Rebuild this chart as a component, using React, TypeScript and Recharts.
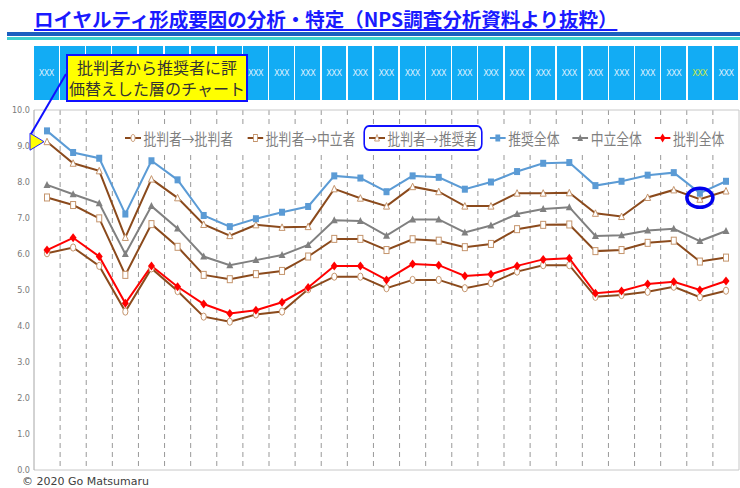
import React from 'react';
import { LineChart, Line, XAxis, YAxis, CartesianGrid, ReferenceDot } from 'recharts';

// ---- data ----
const titleText = 'ロイヤルティ形成要因の分析・特定（NPS調査分析資料より抜粋）';
const calloutLines = ['批判者から推奨者に評', '価替えした層のチャート'];
const footerText = '© 2020 Go Matsumaru';

const columnNos = [1, 2, 3, 4, 5, 6, 7, 8, 9, 10, 11, 12, 13, 14, 15, 16, 17, 18, 19, 20, 21, 22, 23, 24, 25, 26, 27];
const headerLabels = ['XXX', 'XXX', 'XXX', 'XXX', 'XXX', 'XXX', 'XXX', 'XXX', 'XXX', 'XXX', 'XXX', 'XXX', 'XXX', 'XXX', 'XXX', 'XXX', 'XXX', 'XXX', 'XXX', 'XXX', 'XXX', 'XXX', 'XXX', 'XXX', 'XXX', 'XXX', 'XXX'];
const highlightedColumn = 26;

const yTicks = [0, 1, 2, 3, 4, 5, 6, 7, 8, 9, 10];

const seriesNames = ['批判者→批判者', '批判者→中立者', '批判者→推奨者', '推奨全体', '中立全体', '批判全体'];

const detToDet = [6.02, 6.18, 5.67, 4.40, 5.60, 4.97, 4.26, 4.12, 4.32, 4.40, 5.02, 5.37, 5.37, 5.05, 5.28, 5.28, 5.05, 5.19, 5.51, 5.69, 5.69, 4.81, 4.86, 4.95, 5.09, 4.80, 4.98];
const detToPas = [7.57, 7.36, 6.99, 5.42, 6.83, 6.20, 5.42, 5.30, 5.44, 5.53, 5.93, 6.42, 6.42, 6.11, 6.41, 6.37, 6.19, 6.28, 6.69, 6.81, 6.82, 6.08, 6.11, 6.31, 6.37, 5.79, 5.90];
const detToPro = [9.12, 8.52, 8.31, 6.46, 8.08, 7.56, 6.82, 6.51, 6.81, 6.74, 6.76, 7.81, 7.55, 7.33, 7.87, 7.73, 7.33, 7.33, 7.69, 7.69, 7.70, 7.13, 7.04, 7.57, 7.78, 7.52, 7.75];
const promoterAll = [9.42, 8.82, 8.66, 7.11, 8.59, 8.06, 7.07, 6.76, 6.98, 7.16, 7.32, 8.17, 8.11, 7.73, 8.17, 8.13, 7.80, 8.00, 8.29, 8.52, 8.54, 7.90, 8.02, 8.19, 8.26, 7.69, 8.02];
const passiveAll = [7.92, 7.66, 7.41, 6.00, 7.33, 6.71, 5.93, 5.69, 5.83, 5.97, 6.25, 6.94, 6.92, 6.51, 6.96, 6.96, 6.60, 6.79, 7.11, 7.25, 7.30, 6.50, 6.52, 6.65, 6.70, 6.36, 6.64];
const detractorAll = [6.11, 6.45, 5.93, 4.63, 5.67, 5.09, 4.61, 4.35, 4.44, 4.66, 5.07, 5.67, 5.67, 5.28, 5.72, 5.69, 5.39, 5.44, 5.67, 5.85, 5.88, 4.91, 4.97, 5.17, 5.23, 5.00, 5.25];

const pointerColumn = 1;
const pointerValue = 9.12;
const circledColumn = 26;
const circledValue = 7.56;

const data = columnNos.map((no, i) => ({
  no,
  detToDet: detToDet[i],
  detToPas: detToPas[i],
  detToPro: detToPro[i],
  promoterAll: promoterAll[i],
  passiveAll: passiveAll[i],
  detractorAll: detractorAll[i],
}));

// ---- styles ----
const FONT = '"Noto Sans CJK JP", "Noto Sans", sans-serif';
const BROWN = '#8b4a1c';
const TAN = '#c4946c';
const BLUE = '#5b9bd5';
const GRAY = '#808080';
const RED = '#ff0000';

type Shape = 'circle' | 'square' | 'triangle' | 'fsquare' | 'ftriangle' | 'diamond';

function markerEl(shape: Shape, cx: number, cy: number, color: string, key?: string) {
  switch (shape) {
    case 'circle':
      return <ellipse key={key} cx={cx} cy={cy} rx={2.6} ry={3.6} fill="#fff" stroke={TAN} strokeWidth={1} />;
    case 'square':
      return <rect key={key} x={cx - 2.5} y={cy - 3.5} width={5} height={7} fill="#fff" stroke={TAN} strokeWidth={1} />;
    case 'triangle':
      return <polygon key={key} points={`${cx},${cy - 3.5} ${cx + 3},${cy + 3} ${cx - 3},${cy + 3}`} fill="#fff" stroke={TAN} strokeWidth={1} />;
    case 'fsquare':
      return <rect key={key} x={cx - 3} y={cy - 3.5} width={6} height={7} fill={color} />;
    case 'ftriangle':
      return <polygon key={key} points={`${cx},${cy - 4} ${cx + 3.5},${cy + 3} ${cx - 3.5},${cy + 3}`} fill={color} />;
    case 'diamond':
    default:
      return <polygon key={key} points={`${cx},${cy - 4.5} ${cx + 3.5},${cy} ${cx},${cy + 4.5} ${cx - 3.5},${cy}`} fill={color} />;
  }
}

const makeDot = (shape: Shape, color: string) => (p: any) => {
  const { cx, cy, index } = p;
  if (cx == null || cy == null) return <g key={`e${shape}${index}`} />;
  return markerEl(shape, cx, cy, color, `${shape}${index}`);
};

const seriesDefs: { key: string; color: string; shape: Shape; width: number }[] = [
  { key: 'detToDet', color: BROWN, shape: 'circle', width: 2 },
  { key: 'detToPas', color: BROWN, shape: 'square', width: 2 },
  { key: 'detToPro', color: BROWN, shape: 'triangle', width: 2 },
  { key: 'promoterAll', color: BLUE, shape: 'fsquare', width: 2 },
  { key: 'passiveAll', color: GRAY, shape: 'ftriangle', width: 2 },
  { key: 'detractorAll', color: RED, shape: 'diamond', width: 2 },
];

const dashedGridX = ({ offset }: any) =>
  columnNos.slice(1).map((_, k) => offset.left + ((k + 1) * offset.width) / columnNos.length);
const borderGridX = ({ offset }: any) => [offset.left + offset.width];
const borderGridY = ({ offset }: any) => [offset.top, offset.top + offset.height];

function LegendItem({ idx }: { idx: number }) {
  const s = seriesDefs[idx];
  return (
    <div style={{ display: 'flex', alignItems: 'center' }}>
      <svg width={20} height={16} style={{ display: 'block' }}>
        <line x1={0} y1={8} x2={20} y2={8} stroke={s.color} strokeWidth={2} />
        {markerEl(s.shape, 10, 8, s.color)}
      </svg>
      <span style={{ marginLeft: 3, fontSize: 16, color: '#7f7f7f', lineHeight: '20px', whiteSpace: 'nowrap' }}>{seriesNames[idx]}</span>
    </div>
  );
}

export default function App() {
  return (
    <div style={{ position: 'absolute', left: 0, top: 0, width: 740, height: 488, background: '#fff', overflow: 'hidden', fontFamily: FONT }}>
      {/* title */}
      <div style={{ position: 'absolute', left: 34, top: 8, fontSize: 19.5, fontWeight: 700, color: '#1a1aff', lineHeight: '22px', whiteSpace: 'nowrap', textDecoration: 'underline', textDecorationThickness: '2px', textUnderlineOffset: '2px' }}>
        {titleText}
      </div>
      <div style={{ position: 'absolute', left: 7, top: 32, width: 733, height: 4, background: '#1b5fc0' }} />
      <div style={{ position: 'absolute', left: 7, top: 37, width: 733, height: 3, background: '#3fd0d0' }} />

      {/* header boxes */}
      <div style={{ position: 'absolute', left: 34, top: 46, width: 706, height: 54, display: 'flex' }}>
        {headerLabels.map((lab, i) => (
          <div key={i} style={{ flex: 1, marginRight: 1.5, background: '#12acf4', display: 'flex', alignItems: 'center', justifyContent: 'center', fontSize: 9, color: columnNos[i] === highlightedColumn ? '#c8e84a' : '#dcefff', fontFamily: '"DejaVu Sans Condensed", "DejaVu Sans", sans-serif', letterSpacing: '-0.5px' }}>
            {lab}
          </div>
        ))}
      </div>

      {/* chart */}
      <div style={{ position: 'absolute', left: 0, top: 0 }}>
        <LineChart width={740} height={488} data={data} margin={{ top: 110, right: 1, bottom: 18, left: 0 }}>
          <CartesianGrid horizontal={false} vertical verticalCoordinatesGenerator={dashedGridX} stroke="#999" strokeDasharray="5 4" />
          <CartesianGrid horizontal vertical horizontalCoordinatesGenerator={borderGridY} verticalCoordinatesGenerator={borderGridX} stroke="#c8c8c8" />
          <XAxis dataKey="no" type="category" hide padding={{ left: 13, right: 13 }} />
          <YAxis
            domain={[0, 10]}
            ticks={yTicks}
            width={34}
            tickLine={false}
            tickSize={0}
            tickMargin={4}
            axisLine={{ stroke: '#a6a6a6' }}
            tick={{ fontSize: 9, fill: '#7a7a7a', fontFamily: '"Liberation Sans Narrow", "DejaVu Sans Condensed", sans-serif' }}
            tickFormatter={(v: number) => v.toFixed(1)}
          />
          {seriesDefs.map((s) => (
            <Line key={s.key} type="linear" dataKey={s.key} stroke={s.color} strokeWidth={s.width} dot={makeDot(s.shape, s.color)} activeDot={false} isAnimationActive={false} />
          ))}
          <ReferenceDot
            x={circledColumn}
            y={circledValue}
            ifOverflow="visible"
            shape={(p: any) => <ellipse cx={p.cx} cy={p.cy} rx={13} ry={9.5} fill="none" stroke="#0000ee" strokeWidth={3.5} />}
          />
          <ReferenceDot
            x={pointerColumn}
            y={pointerValue}
            ifOverflow="visible"
            shape={(p: any) => (
              <polygon points={`${p.cx - 3},${p.cy} ${p.cx - 17},${p.cy - 8.5} ${p.cx - 17},${p.cy + 8.5}`} fill="#ffff00" stroke="#2020ff" strokeWidth={1} />
            )}
          />
        </LineChart>
      </div>

      {/* legend */}
      <div style={{ position: 'absolute', left: 120, top: 124, width: 616, height: 27, background: '#fff' }} />
      <div style={{ position: 'absolute', left: 125, top: 124, height: 27, transform: 'scaleX(0.8)', transformOrigin: '0 0', display: 'flex', alignItems: 'center' }}>
        <LegendItem idx={0} />
        <div style={{ width: 18 }} />
        <LegendItem idx={1} />
        <div style={{ width: 10 }} />
        <div style={{ border: '2px solid #1010ff', borderRadius: 7, padding: '0 5px', height: 22, display: 'flex', alignItems: 'center' }}>
          <LegendItem idx={2} />
        </div>
        <div style={{ width: 9 }} />
        <LegendItem idx={3} />
        <div style={{ width: 16 }} />
        <LegendItem idx={4} />
        <div style={{ width: 16 }} />
        <LegendItem idx={5} />
      </div>

      {/* callout */}
      <svg width={740} height={488} style={{ position: 'absolute', left: 0, top: 0, pointerEvents: 'none' }}>
        <line x1={66} y1={74} x2={31} y2={134} stroke="#1010ff" strokeWidth={2} />
      </svg>
      <div style={{ position: 'absolute', left: 66, top: 54, width: 182, height: 48, boxSizing: 'border-box', border: '2px solid #1010ff', background: '#ffff00', display: 'flex', flexDirection: 'column', alignItems: 'center', justifyContent: 'center', fontSize: 16, lineHeight: '21px', color: '#333' }}>
        {calloutLines.map((l, i) => (
          <div key={i} style={{ whiteSpace: 'nowrap' }}>{l}</div>
        ))}
      </div>

      {/* footer */}
      <div style={{ position: 'absolute', left: 22, top: 475, fontSize: 11, lineHeight: '14px', color: '#404040', fontFamily: '"DejaVu Sans", sans-serif' }}>{footerText}</div>
    </div>
  );
}
